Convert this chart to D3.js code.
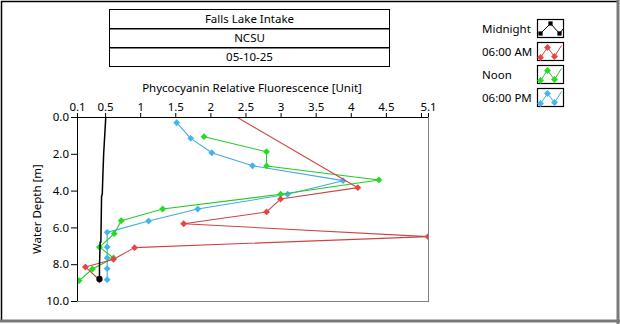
<!DOCTYPE html>
<html>
<head>
<meta charset="utf-8">
<script src="https://cdn.jsdelivr.net/npm/d3@7/dist/d3.min.js"></script>
<style>
  html, body { margin: 0; padding: 0; background: #fff; }
  svg { display: block; font-family: "Segoe UI", "Noto Sans", "Open Sans", sans-serif; }
</style>
</head>
<body>
<svg id="chart" width="620" height="324"></svg>
<script>
// Header lines
const headerLines = ["Falls Lake Intake", "NCSU", "05-10-25"];

// Series names and colours
const seriesNames = ["Midnight", "06:00 AM", "Noon", "06:00 PM"];
const lineColors = ["#000000", "#cc4444", "#22cc22", "#44aadd"];
const markerColors = ["#000000", "#e84444", "#22dd22", "#44b4ee"];

// Profiles: [fluorescence, depth in m]
const midnight = [[0.51, 0.0], [0.48, 2.0], [0.47, 3.0], [0.46, 4.2], [0.45, 4.3],
                  [0.44, 6.8], [0.43, 6.8], [0.42, 8.1], [0.42, 8.8]];
const am6 = [[2.15, -0.5], [4.10, 3.84], [3.00, 4.46], [2.80, 5.16], [1.62, 5.80],
             [5.10, 6.50], [0.92, 7.10], [0.62, 7.73], [0.22, 8.15], [0.42, 8.86]];
const noon = [[1.91, 1.07], [2.80, 1.89], [2.80, 2.66], [4.40, 3.42], [3.00, 4.20],
              [1.32, 5.00], [0.73, 5.64], [0.63, 6.34], [0.42, 7.07], [0.62, 7.66],
              [0.32, 8.26], [0.13, 8.89]];
const pm6 = [[1.52, 0.31], [1.72, 1.16], [2.02, 1.94], [2.60, 2.65], [3.89, 3.46],
             [3.10, 4.20], [1.82, 5.00], [1.12, 5.65], [0.53, 6.27], [0.53, 7.07],
             [0.53, 7.66], [0.53, 8.24], [0.53, 8.84]];
const profiles = [midnight, am6, noon, pm6];

// Axis ticks
const xTicks = [0.1, 0.5, 1, 1.5, 2, 2.5, 3, 3.5, 4, 4.5, 5.0, 5.1];
const xTickLabels = ["0.1", "0.5", "1", "1.5", "2", "2.5", "3", "3.5", "4", "4.5", "", "5.1"];
const yTicks = [0, 2, 4, 6, 8, 10];
const xTitle = "Phycocyanin Relative Fluorescence [Unit]";
const yTitle = "Water Depth [m]";

const svg = d3.select("#chart");
const plot = { left: 77, right: 428, top: 117, bottom: 301 };

const x = d3.scaleLinear().domain([0.1, 5.1]).range([plot.left, plot.right]);
const y = d3.scaleLinear().domain([0, 10]).range([plot.top, plot.bottom]);

// Outer frame: dark top/left, grey bottom/right
svg.append("rect").attr("x", 0).attr("y", 0).attr("width", 620).attr("height", 324).attr("fill", "#fff");
svg.append("line").attr("x1", 1.5).attr("y1", 1).attr("x2", 1.5).attr("y2", 321).attr("stroke", "#000").attr("stroke-width", 1.5);
svg.append("line").attr("x1", 1).attr("y1", 1.5).attr("x2", 618).attr("y2", 1.5).attr("stroke", "#000").attr("stroke-width", 1.5);
svg.append("line").attr("x1", 618).attr("y1", 0).attr("x2", 618).attr("y2", 324).attr("stroke", "#7a7a7a").attr("stroke-width", 3);
svg.append("line").attr("x1", 0).attr("y1", 321).attr("x2", 620).attr("y2", 321).attr("stroke", "#7a7a7a").attr("stroke-width", 3);

// Header boxes
const hb = { x: 109.5, y: 9.5, w: 280, h: 19 };
headerLines.forEach((t, i) => {
  const g = svg.append("g");
  g.append("rect").attr("x", hb.x).attr("y", hb.y + i * hb.h).attr("width", hb.w).attr("height", hb.h)
    .attr("fill", "#fff").attr("stroke", "#000").attr("stroke-width", i === 0 ? 1 : 1);
  g.append("text").attr("x", hb.x + hb.w / 2).attr("y", hb.y + i * hb.h + hb.h / 2 + 4)
    .attr("text-anchor", "middle").attr("font-size", 11.5).attr("fill", "#000").text(t);
});
// thicker separators between header rows
[1, 2].forEach(i => {
  svg.append("line").attr("x1", hb.x).attr("x2", hb.x + hb.w)
    .attr("y1", hb.y + i * hb.h + 0.5).attr("y2", hb.y + i * hb.h + 0.5)
    .attr("stroke", "#000").attr("stroke-width", 1);
});

// Axis titles
svg.append("text").attr("x", 252).attr("y", 92).attr("text-anchor", "middle")
  .attr("font-size", 11.5).attr("fill", "#000").text(xTitle);
svg.append("text").attr("transform", "translate(41,209) rotate(-90)").attr("text-anchor", "middle")
  .attr("font-size", 11.5).attr("fill", "#000").text(yTitle);

// Axes
const xAxis = svg.append("g").attr("transform", `translate(0,${plot.top})`)
  .call(d3.axisTop(x).tickValues(xTicks).tickSize(4).tickPadding(2)
    .tickFormat((d, i) => xTickLabels[i]));
const yAxis = svg.append("g").attr("transform", `translate(${plot.left},0)`)
  .call(d3.axisLeft(y).tickValues(yTicks).tickSize(6).tickPadding(2).tickFormat(d3.format(".1f")));
[xAxis, yAxis].forEach(a => {
  a.select(".domain").remove();
  a.selectAll("line").attr("stroke", "#000");
  a.selectAll("text").attr("fill", "#000").attr("font-size", 11.5)
    .style("font-family", "\"Segoe UI\", \"Noto Sans\", sans-serif");
});

// Plot frame
svg.append("line").attr("x1", plot.left).attr("x2", plot.right + 1).attr("y1", plot.top + 0.5).attr("y2", plot.top + 0.5).attr("stroke", "#000");
svg.append("line").attr("x1", plot.left + 0.5).attr("x2", plot.left + 0.5).attr("y1", plot.top).attr("y2", plot.bottom).attr("stroke", "#000");
svg.append("line").attr("x1", plot.right + 0.5).attr("x2", plot.right + 0.5).attr("y1", plot.top).attr("y2", plot.bottom + 1).attr("stroke", "#808080");
svg.append("line").attr("x1", plot.left).attr("x2", plot.right + 1).attr("y1", plot.bottom + 0.5).attr("y2", plot.bottom + 0.5).attr("stroke", "#808080");

// Clip to plotting area
svg.append("clipPath").attr("id", "plotClip").append("rect")
  .attr("x", plot.left + 1).attr("y", plot.top + 1)
  .attr("width", plot.right - plot.left - 1).attr("height", plot.bottom - plot.top - 1);

const area = svg.append("g").attr("clip-path", "url(#plotClip)");
const line = d3.line().x(d => x(d[0])).y(d => y(d[1]));
const diamond = d3.symbol().type(d3.symbolDiamond2).size(30);

// Draw series bottom to top: PM, Noon, AM, Midnight
[3, 2, 1, 0].forEach(si => {
  const data = profiles[si];
  area.append("path").datum(data).attr("d", line)
    .attr("fill", "none").attr("stroke", lineColors[si])
    .attr("stroke-width", si === 0 ? 1.5 : 1.1).attr("stroke-linejoin", "round");
  const pts = si === 0 ? [data[data.length - 1]] : data;
  area.selectAll(null).data(pts).enter().append("path")
    .attr("d", si === 0 ? d3.symbol().type(d3.symbolCircle).size(30)() : diamond())
    .attr("transform", d => `translate(${x(d[0])},${y(d[1])})`)
    .attr("fill", markerColors[si]);
});

// Legend
const lg = { textX: 482, boxX: 537.5, y0: 19.5, step: 23, w: 26, h: 18 };
const iconZig = [[3, 15], [10, 5], [17, 14], [24, 3]];
const iconPeak = [[3, 14], [13, 4], [22, 14], [26, 9]];
seriesNames.forEach((name, i) => {
  const gy = lg.y0 + i * lg.step;
  svg.append("text").attr("x", lg.textX).attr("y", gy + lg.h / 2 + 4)
    .attr("font-size", 11.5).attr("fill", "#000").text(name);
  const g = svg.append("g").attr("transform", `translate(${lg.boxX},${gy})`);
  g.append("rect").attr("width", lg.w).attr("height", lg.h).attr("fill", "#fff")
    .attr("stroke", "#000").attr("stroke-width", 1.2);
  const pts = i === 0 ? iconPeak : iconZig;
  const il = d3.line();
  g.append("path").attr("d", il(pts)).attr("fill", "none").attr("stroke", lineColors[i]).attr("stroke-width", 1);
  const mk = i === 0 ? pts.slice(0, 3) : pts.slice(0, 3);
  g.selectAll(null).data(mk).enter().append("path")
    .attr("d", i === 0 ? d3.symbol().type(d3.symbolSquare).size(18)() : diamond())
    .attr("transform", d => `translate(${d[0]},${d[1]})`)
    .attr("fill", markerColors[i]);
});
</script>
</body>
</html>
